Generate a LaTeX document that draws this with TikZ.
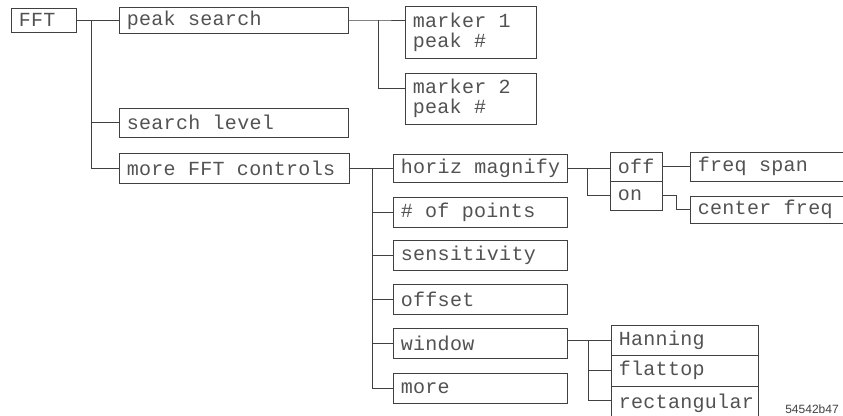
\documentclass[tikz,border=0pt]{standalone}
\usepackage{fontspec}
\setmainfont{Liberation Sans}
\setmonofont{Liberation Mono}
\usetikzlibrary{fit}
\newcommand{\boxfont}{\ttfamily\fontsize{20}{20}\selectfont\addfontfeatures{LetterSpace=1.5}\color{black!68}}
\tikzset{
  bx/.style={draw=black!75, line width=0.7pt, rectangle, inner sep=0pt, fit={#1}},
  lbl/.style={label={[anchor=west,xshift=8pt,align=left,inner sep=0pt,font=\boxfont]west:{#1}}},
  wire/.style={draw=black!75, line width=0.7pt}
}
\begin{document}
\begin{tikzpicture}[x=1pt,y=-1pt]
\useasboundingbox (0,0) rectangle (843,415);
% boxes
\node[bx={(11,8)(76,32)}, lbl={FFT}] (fft) {};
\node[bx={(119,7)(348,33)}, lbl={peak search}] (ps) {};
\node[bx={(405,6)(536,58)}, lbl={marker 1\\peak \#}] (m1) {};
\node[bx={(405,73)(536,124)}, lbl={marker 2\\peak \#}] (m2) {};
\node[bx={(119,108)(348,137)}, lbl={search level}] (sl) {};
\node[bx={(119,153)(349,183)}, lbl={more FFT controls}] (mfc) {};
\node[bx={(393,154)(567,182)}, lbl={horiz magnify}] (hm) {};
\node[bx={(393,197)(567,227)}, lbl={\# of points}] (np) {};
\node[bx={(393,240)(567,270)}, lbl={sensitivity}] (sens) {};
\node[bx={(393,284)(567,314)}, lbl={offset}] (ofs) {};
\node[bx={(393,328)(567,358)}, lbl={window}] (win) {};
\node[bx={(393,373)(567,403)}, lbl={more}] (more) {};
\node[bx={(610,152)(662,181)}, lbl={off}] (off) {};
\node[bx={(610,181)(662,210)}, lbl={on}] (on) {};
\node[bx={(690,152)(846,181)}, lbl={freq span}] (fs) {};
\node[bx={(690,196)(846,223)}, lbl={center freq}] (cf) {};
\node[bx={(611,325)(758,355)}, lbl={Hanning}] (han) {};
\node[bx={(611,355)(758,386)}, lbl={flattop}] (flat) {};
\node[bx={(611,386)(758,421)}, lbl={rectangular}] (rect) {};
\node[font=\fontsize{12}{12}\selectfont\color{black!75}, inner sep=0pt] (id) at (812,409) {54542b47};
% bus coordinates
\coordinate (b1) at (91,20);
\coordinate (b2) at (378,20);
\coordinate (b3) at (372,168);
\coordinate (b4) at (587,168);
\coordinate (b5) at (676,195.5);
\coordinate (b6) at (588,340);
% connectors
\draw[wire] (fft.east) -- (ps.west);
\draw[wire] (b1) |- (sl.west);
\draw[wire] (b1) |- (mfc.west);
\draw[wire] (ps.east) -- (b2) -- (b2 -| m1.west);
\draw[wire] (b2) |- ([yshift=10pt]m2.west);
\draw[wire] (mfc.east) -- (mfc.east -| hm.west);
\draw[wire] (b3) |- (np.west);
\draw[wire] (b3) |- (sens.west);
\draw[wire] (b3) |- (ofs.west);
\draw[wire] (b3) |- (win.west);
\draw[wire] (b3) |- (more.west);
\draw[wire] (hm.east) -- (hm.east -| off.west);
\draw[wire] (b4) |- (on.west);
\draw[wire] (off.east) -- (fs.west);
\draw[wire] (on.east) -- (b5) |- (cf.west);
\draw[wire] (win.east |- han.west) -- (han.west);
\draw[wire] (b6) |- (flat.west);
\draw[wire] (b6) |- ([yshift=3pt]rect.west);
\end{tikzpicture}
\end{document}
